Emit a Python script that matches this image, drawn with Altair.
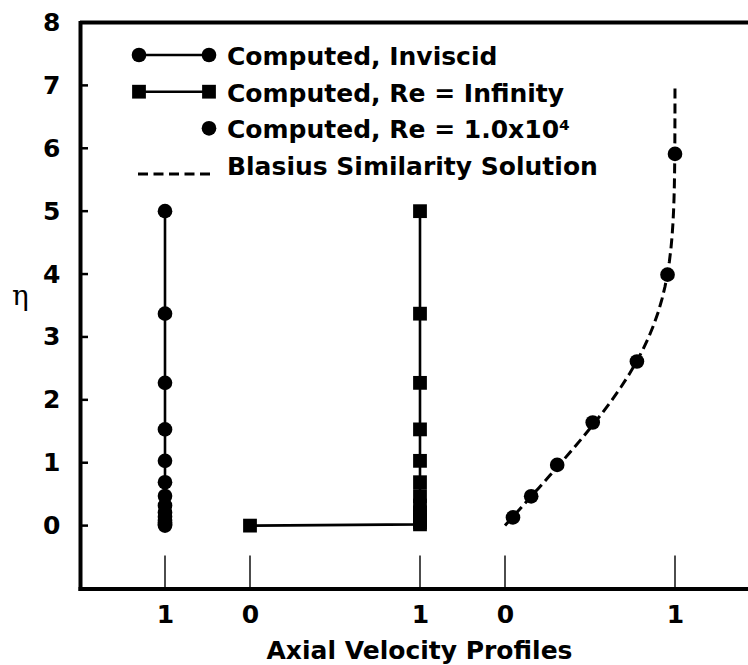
import altair as alt
import pandas as pd

# ---- data -------------------------------------------------------------
# Similarity coordinate of the computed grid points (inviscid and Re = infinity runs)
eta_grid = [0.0, 0.02, 0.05, 0.09, 0.14, 0.21, 0.32, 0.47, 0.69, 1.03, 1.53, 2.27, 3.37, 5.0]
u_inviscid = [1.0, 1.0, 1.0, 1.0, 1.0, 1.0, 1.0, 1.0, 1.0, 1.0, 1.0, 1.0, 1.0, 1.0]
u_re_inf = [0.0, 1.0, 1.0, 1.0, 1.0, 1.0, 1.0, 1.0, 1.0, 1.0, 1.0, 1.0, 1.0, 1.0]

# Computed viscous profile, Re = 1.0x10^4
eta_re1e4 = [0.13, 0.466, 0.965, 1.64, 2.61, 3.99, 5.91]
u_re1e4 = [0.047, 0.154, 0.307, 0.516, 0.776, 0.956, 1.0]

# Blasius similarity solution f'(eta)
eta_blasius = [0.0, 0.2, 0.4, 0.6, 0.8, 1.0, 1.2, 1.4, 1.6, 1.8, 2.0, 2.2, 2.4, 2.6,
               2.8, 3.0, 3.2, 3.4, 3.6, 3.8, 4.0, 4.2, 4.4, 4.6, 4.8, 5.0, 5.2, 5.4,
               5.6, 5.8, 6.0, 6.5, 7.0]
u_blasius = [0.0, 0.06641, 0.13277, 0.19894, 0.26471, 0.32979, 0.39378, 0.45627,
             0.51676, 0.57477, 0.62977, 0.68132, 0.72899, 0.77246, 0.81152, 0.84605,
             0.87609, 0.90177, 0.92333, 0.94112, 0.95552, 0.96696, 0.97587, 0.98269,
             0.98779, 0.99155, 0.99425, 0.99616, 0.99748, 0.99838, 0.99898, 0.99970,
             0.99992]

# Axis ticks: each profile has its own local 0..1 velocity scale
x_tick_pos = [-0.5, 0.0, 1.0, 1.5, 2.5]
x_tick_labels = ["1", "0", "1", "0", "1"]
y_tick_vals = [0, 1, 2, 3, 4, 5, 6, 7, 8]
y_inner_ticks = [0, 1, 2, 3, 4, 5, 6, 7]

# horizontal shift of each profile along the common abscissa
SHIFT_INVISCID = -1.5
SHIFT_RE_INF = 0.0
SHIFT_RE1E4 = 1.5

# ---- layout -----------------------------------------------------------
W, H = 668, 566
X_MAX = -1 + W / 170.0
FONT = "DejaVu Sans"
BLACK = "#000000"

XS = alt.Scale(domain=[-1, X_MAX], nice=False, zero=False)
YS = alt.Scale(domain=[-1, 8], nice=False, zero=False)

label_expr = " : ".join(
    f"datum.value == {p} ? '{l}'" for p, l in zip(x_tick_pos, x_tick_labels)
) + " : ''"

x_axis = alt.Axis(
    values=x_tick_pos, labelExpr=label_expr, ticks=False, tickSize=0, grid=False,
    domainWidth=4, domainColor=BLACK, domainCap="square",
    labelFont=FONT, labelFontSize=25, labelFontWeight="bold", labelColor=BLACK,
    labelPadding=14, labelFlush=False, labelOverlap=False,
    title="Axial Velocity Profiles", titleFont=FONT, titleFontSize=25,
    titleFontWeight="bold", titleColor=BLACK, titleX=339, titleY=70,
    titleAlign="center", titleBaseline="alphabetic", titleAnchor="start",
)
y_axis = alt.Axis(
    values=y_tick_vals, format="d", ticks=False, tickSize=0, grid=False,
    domainWidth=4, domainColor=BLACK, domainCap="square",
    labelFont=FONT, labelFontSize=25, labelFontWeight="bold", labelColor=BLACK,
    labelPadding=20, labelFlush=False, labelOverlap=False,
    title="η", titleFont="DejaVu Serif", titleFontSize=28, titleFontWeight="normal",
    titleColor=BLACK, titleAngle=0, titleX=-60, titleY=282,
    titleAlign="center", titleBaseline="alphabetic", titleAnchor="start",
)


def xenc(field):
    return alt.X(field, type="quantitative", scale=XS, axis=x_axis)


def yenc(field):
    return alt.Y(field, type="quantitative", scale=YS, axis=y_axis)


def frame(rows):
    return pd.DataFrame(rows)


inviscid = frame({"x": [u + SHIFT_INVISCID for u in u_inviscid], "eta": eta_grid})
re_inf = frame({"x": [u + SHIFT_RE_INF for u in u_re_inf], "eta": eta_grid})
re1e4 = frame({"x": [u + SHIFT_RE1E4 for u in u_re1e4], "eta": eta_re1e4})
blasius = frame({"x": [u + SHIFT_RE1E4 for u in u_blasius], "eta": eta_blasius})

LW = 2.6
CIRCLE = 215
SQUARE = 190

layers = []

# profile lines
for df in (inviscid, re_inf):
    layers.append(
        alt.Chart(df).mark_line(color=BLACK, strokeWidth=LW).encode(
            x=xenc("x"), y=yenc("eta"), order=alt.Order("eta:Q")
        )
    )
layers.append(
    alt.Chart(blasius).mark_line(color=BLACK, strokeWidth=3, strokeDash=[10, 5]).encode(
        x=xenc("x"), y=yenc("eta"), order=alt.Order("eta:Q")
    )
)

# profile symbols
layers.append(
    alt.Chart(inviscid).mark_point(shape="circle", filled=True, size=CIRCLE, color=BLACK, opacity=1)
    .encode(x=xenc("x"), y=yenc("eta"))
)
layers.append(
    alt.Chart(re_inf).mark_point(shape="square", filled=True, size=SQUARE, color=BLACK, opacity=1)
    .encode(x=xenc("x"), y=yenc("eta"))
)
layers.append(
    alt.Chart(re1e4).mark_point(shape="circle", filled=True, size=CIRCLE, color=BLACK, opacity=1)
    .encode(x=xenc("x"), y=yenc("eta"))
)

# inward tick marks on the left frame
layers.append(
    alt.Chart(frame({"t": y_inner_ticks})).mark_rule(color=BLACK, strokeWidth=2.5).encode(
        x=alt.value(0), x2=alt.value(8), y=yenc("t")
    )
)
# upward tick marks on the bottom frame
layers.append(
    alt.Chart(frame({"p": x_tick_pos})).mark_rule(color=BLACK, strokeWidth=1.4).encode(
        x=xenc("p"), y=alt.value(H), y2=alt.value(H - 33)
    )
)
# top frame line
layers.append(
    alt.Chart(frame({"a": [0]})).mark_rule(color=BLACK, strokeWidth=4).encode(
        x=alt.value(0), x2=alt.value(W), y=alt.value(0)
    )
)

# ---- legend -----------------------------------------------------------
one = frame({"a": [0]})
LX1, LX2, TX = 59, 129, 147
rows_y = [32.5, 69.2, 105.8, 151.5]
text_y = [42.3, 79.1, 115.6, 152.4]
legend_labels = [
    "Computed, Inviscid",
    "Computed, Re = Infinity",
    "Computed, Re = 1.0x10⁴",
    "Blasius Similarity Solution",
]

layers.append(alt.Chart(one).mark_rule(color=BLACK, strokeWidth=LW).encode(
    x=alt.value(LX1), x2=alt.value(LX2), y=alt.value(rows_y[0])))
layers.append(alt.Chart(one).mark_rule(color=BLACK, strokeWidth=LW).encode(
    x=alt.value(LX1), x2=alt.value(LX2), y=alt.value(rows_y[1])))
layers.append(alt.Chart(one).mark_rule(color=BLACK, strokeWidth=3, strokeDash=[10, 5.5]).encode(
    x=alt.value(LX1 - 1), x2=alt.value(LX2 + 2), y=alt.value(rows_y[3])))
for xx in (LX1, LX2):
    layers.append(alt.Chart(one).mark_point(shape="circle", filled=True, size=CIRCLE, color=BLACK, opacity=1)
                  .encode(x=alt.value(xx), y=alt.value(rows_y[0])))
    layers.append(alt.Chart(one).mark_point(shape="square", filled=True, size=SQUARE, color=BLACK, opacity=1)
                  .encode(x=alt.value(xx), y=alt.value(rows_y[1])))
layers.append(alt.Chart(one).mark_point(shape="circle", filled=True, size=CIRCLE, color=BLACK, opacity=1)
              .encode(x=alt.value(LX2), y=alt.value(rows_y[2])))
for lbl, ty in zip(legend_labels, text_y):
    layers.append(
        alt.Chart(one).mark_text(
            text=lbl, font=FONT, fontSize=25, fontWeight="bold", color=BLACK,
            align="left", baseline="alphabetic",
        ).encode(x=alt.value(TX), y=alt.value(ty))
    )

chart = (
    alt.layer(*layers)
    .properties(
        width=W, height=H, autosize="none",
        padding={"left": 80, "top": 22.5, "right": 0, "bottom": 665 - 22.5 - H},
        background="white",
    )
    .configure_view(stroke=None)
)

chart.save("out.html", embed_options={"renderer": "svg", "actions": False})
